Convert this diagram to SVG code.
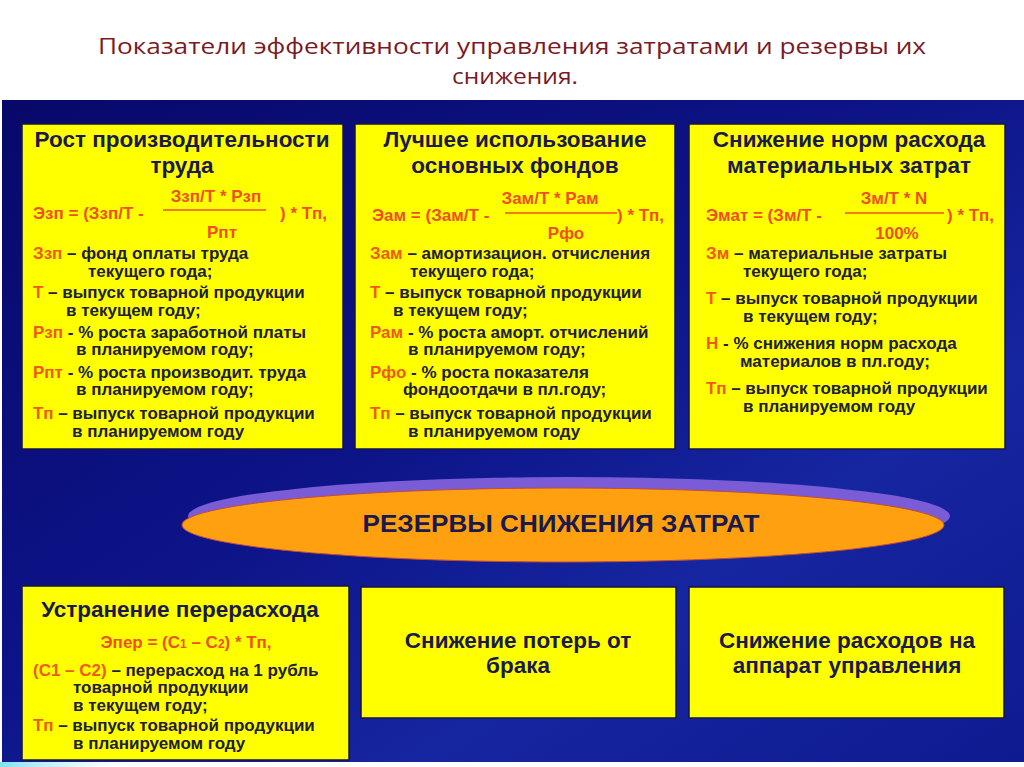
<svg xmlns="http://www.w3.org/2000/svg" width="1024" height="767" viewBox="0 0 1024 767">
<defs>
<linearGradient id="bg" x1="0" y1="0" x2="1" y2="1">
<stop offset="0" stop-color="#08086a"/>
<stop offset="0.45" stop-color="#0d1488"/>
<stop offset="0.7" stop-color="#1626a0"/>
<stop offset="1" stop-color="#0e1a90"/>
</linearGradient>
<linearGradient id="streak" x1="0" y1="0" x2="1" y2="0">
<stop offset="0" stop-color="#7fe0f0"/>
<stop offset="1" stop-color="#ffffff" stop-opacity="0"/>
</linearGradient>
<style>
.box{fill:#ffff00;stroke:#15154a;stroke-width:1.5}
.hd{font-family:"Liberation Sans",Arial,sans-serif;font-weight:bold;font-size:22.5px;fill:#1a1a4c;text-anchor:middle}
.tx{font-family:"Liberation Sans",Arial,sans-serif;font-weight:bold;font-size:17px;fill:#202036}
.lb{fill:#f05a0a}
.fm{font-family:"Liberation Sans",Arial,sans-serif;font-weight:bold;font-size:17px;fill:#f0501e}
.fl{stroke:#f0501e;stroke-width:1.6}
.hd2{font-family:"Liberation Sans",Arial,sans-serif;font-weight:bold;font-size:22.5px;fill:#1a1a4c;text-anchor:middle}
</style>
</defs>
<rect x="0" y="0" width="1024" height="767" fill="#ffffff"/>
<text x="512" y="54" font-family="'Open Sans',sans-serif" font-size="22" fill="#7a1a26" text-anchor="middle" textLength="828" lengthAdjust="spacingAndGlyphs">Показатели эффективности управления затратами и резервы их</text>
<text x="515" y="84" font-family="'Open Sans',sans-serif" font-size="22" fill="#7a1a26" text-anchor="middle" textLength="126" lengthAdjust="spacingAndGlyphs">снижения.</text>
<rect x="2" y="100" width="1022" height="662" fill="url(#bg)"/>
<path d="M0,762 L150,762 Q120,765 90,767 L0,767 Z" fill="url(#streak)"/>

<g id="box1">
<rect class="box" x="22" y="124" width="321" height="325"/>
<text class="hd" x="182" y="147">Рост производительности</text>
<text class="hd" x="182" y="173">труда</text>
<text class="fm" x="216" y="202" text-anchor="middle">Ззп/Т * Рзп</text>
<line class="fl" x1="163" y1="210" x2="266" y2="210"/>
<text class="fm" x="33" y="219">Эзп = (Ззп/Т -</text>
<text class="fm" x="280" y="219">) * Тп,</text>
<text class="fm" x="222" y="238" text-anchor="middle">Рпт</text>
<text class="tx" x="33" y="259"><tspan class="lb">Ззп</tspan> – фонд оплаты труда</text>
<text class="tx" x="88" y="277">текущего года;</text>
<text class="tx" x="33" y="298"><tspan class="lb">Т</tspan> – выпуск товарной продукции</text>
<text class="tx" x="66" y="316">в текущем году;</text>
<text class="tx" x="33" y="338"><tspan class="lb">Рзп</tspan> - % роста заработной платы</text>
<text class="tx" x="76" y="355">в планируемом году;</text>
<text class="tx" x="33" y="378"><tspan class="lb">Рпт</tspan> - % роста производит. труда</text>
<text class="tx" x="76" y="395">в планируемом году;</text>
<text class="tx" x="33" y="419"><tspan class="lb">Тп</tspan> – выпуск товарной продукции</text>
<text class="tx" x="72" y="437">в планируемом году</text>
</g>

<g id="box2">
<rect class="box" x="355" y="124" width="320" height="325"/>
<text class="hd" x="515" y="147">Лучшее использование</text>
<text class="hd" x="515" y="173">основных фондов</text>
<text class="fm" x="550" y="204" text-anchor="middle">Зам/Т * Рам</text>
<line class="fl" x1="505" y1="213" x2="617" y2="213"/>
<text class="fm" x="372" y="221">Эам = (Зам/Т -</text>
<text class="fm" x="617" y="221">) * Тп,</text>
<text class="fm" x="566" y="239" text-anchor="middle">Рфо</text>
<text class="tx" x="370" y="259"><tspan class="lb">Зам</tspan> – амортизацион. отчисления</text>
<text class="tx" x="410" y="277">текущего года;</text>
<text class="tx" x="370" y="298"><tspan class="lb">Т</tspan> – выпуск товарной продукции</text>
<text class="tx" x="393" y="316">в текущем году;</text>
<text class="tx" x="370" y="338"><tspan class="lb">Рам</tspan> - % роста аморт. отчислений</text>
<text class="tx" x="408" y="355">в планируемом году;</text>
<text class="tx" x="370" y="378"><tspan class="lb">Рфо</tspan> - % роста показателя</text>
<text class="tx" x="403" y="395">фондоотдачи в пл.году;</text>
<text class="tx" x="370" y="419"><tspan class="lb">Тп</tspan> – выпуск товарной продукции</text>
<text class="tx" x="408" y="437">в планируемом году</text>
</g>

<g id="box3">
<rect class="box" x="689" y="124" width="316" height="325"/>
<text class="hd" x="849" y="147">Снижение норм расхода</text>
<text class="hd" x="849" y="173">материальных затрат</text>
<text class="fm" x="894" y="204" text-anchor="middle">Зм/Т * N</text>
<line class="fl" x1="845" y1="213" x2="944" y2="213"/>
<text class="fm" x="706" y="221">Эмат = (Зм/Т -</text>
<text class="fm" x="947" y="221">) * Тп,</text>
<text class="fm" x="897" y="239" text-anchor="middle">100%</text>
<text class="tx" x="706" y="259"><tspan class="lb">Зм</tspan> – материальные затраты</text>
<text class="tx" x="743" y="277">текущего года;</text>
<text class="tx" x="706" y="304"><tspan class="lb">Т</tspan> – выпуск товарной продукции</text>
<text class="tx" x="743" y="322">в текущем году;</text>
<text class="tx" x="706" y="349"><tspan class="lb">Н</tspan> - % снижения норм расхода</text>
<text class="tx" x="740" y="367">материалов в пл.году;</text>
<text class="tx" x="706" y="394"><tspan class="lb">Тп</tspan> – выпуск товарной продукции</text>
<text class="tx" x="743" y="412">в планируемом году</text>
</g>

<g id="reserves">
<ellipse cx="569" cy="516" rx="381" ry="39" fill="#7a5cd6"/>
<ellipse cx="563" cy="525" rx="381" ry="37" fill="#ffa010" stroke="#c04a40" stroke-width="1"/>
<text x="561" y="532" font-family="'Liberation Sans',Arial,sans-serif" font-weight="bold" font-size="23" fill="#1a1a4c" text-anchor="middle" textLength="397" lengthAdjust="spacingAndGlyphs">РЕЗЕРВЫ СНИЖЕНИЯ  ЗАТРАТ</text>
</g>

<g id="box4">
<rect class="box" x="22" y="586" width="327" height="174"/>
<text class="hd" x="180" y="617">Устранение перерасхода</text>
<text class="fm" x="186" y="648" text-anchor="middle">Эпер = (С<tspan font-size="12">1</tspan> – С<tspan font-size="12">2</tspan>) * Тп,</text>
<text class="tx" x="33" y="676"><tspan class="lb">(С1 – С2)</tspan> – перерасход на 1 рубль</text>
<text class="tx" x="73" y="693">товарной продукции</text>
<text class="tx" x="73" y="711">в текущем году;</text>
<text class="tx" x="33" y="731"><tspan class="lb">Тп</tspan> – выпуск товарной продукции</text>
<text class="tx" x="73" y="749">в планируемом году</text>
</g>

<g id="box5">
<rect class="box" x="361" y="587" width="315" height="131"/>
<text class="hd2" x="518" y="648">Снижение потерь от</text>
<text class="hd2" x="518" y="673">брака</text>
</g>

<g id="box6">
<rect class="box" x="689" y="587" width="315" height="131"/>
<text class="hd2" x="847" y="648">Снижение расходов на</text>
<text class="hd2" x="847" y="673">аппарат управления</text>
</g>

<g id="connectors"></g>
</svg>
